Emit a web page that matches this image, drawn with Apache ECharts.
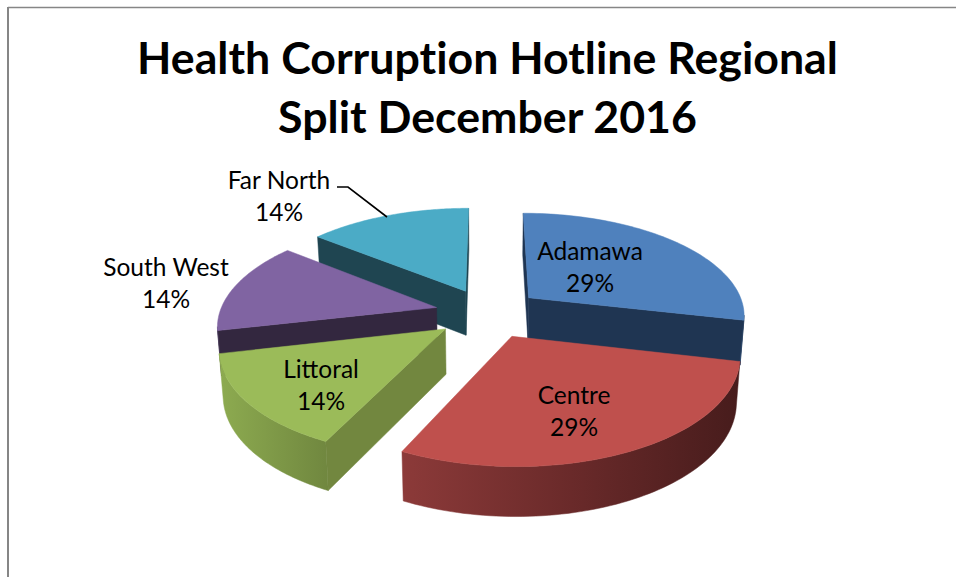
<!DOCTYPE html>
<html>
<head>
<meta charset="utf-8">
<style>html,body{margin:0;padding:0;background:#fff}#c{width:956px;height:577px}
#c text{font-variant-ligatures:none;font-feature-settings:"liga" 0,"clig" 0}</style>
<script src="https://cdn.jsdelivr.net/npm/echarts@6/dist/echarts.min.js"></script>
</head>
<body>
<div id="c"></div>
<script>
var titleLines = ['Health Corruption Hotline Regional', 'Split December 2016'];
var categories = ['Adamawa', 'Centre', 'Littoral', 'South West', 'Far North'];
var values = [2, 2, 1, 1, 1];

var topColors = ['#4f81bd', '#bf504d', '#9bbb59', '#8064a2', '#4babc6'];
var radialColors = ['#1f3552', '#4b1e1e', '#72873f', '#33273f', '#1f4551'];
var wallStops = [
  ['#2c4a72', '#1f3552'],
  ['#8c3a39', '#6a2a2a', '#471c1c'],
  ['#8dab50', '#70873f'],
  ['#4a3a5e', '#33273f'],
  ['#2d6a7a', '#1f4551']
];
var labelCentres = [[590, 266], [574, 410], [321, 384], [166, 282], [279, 195]];

// Perspective view of the pie plane
var view = { x0: 488, y0: 313, a: 217, b: 102, k: 0.155, explode: 0.245,
             drop: 44.75, sx: 0.985, sy: 1.034 };

var total = values.reduce(function (s, v) { return s + v; }, 0);
var starts = [], acc = 0;
values.forEach(function (v) { starts.push(acc / total * 2 * Math.PI); acc += v; });

function project(X, Y) {
  var w = 1 + view.k * Y;
  return [view.x0 + view.a * X / w, view.y0 - view.b * Y / w];
}
function lower(p) {
  return [view.x0 + (p[0] - view.x0) * view.sx,
          view.y0 + view.drop + (p[1] - view.y0) * view.sy];
}
function rimPoint(i, t) {
  var mid = starts[i] + values[i] / total * Math.PI;
  return project(view.explode * Math.sin(mid) + Math.sin(t), view.explode * Math.cos(mid) + Math.cos(t));
}
function apexPoint(i) {
  var mid = starts[i] + values[i] / total * Math.PI;
  return project(view.explode * Math.sin(mid), view.explode * Math.cos(mid));
}
function cross(o, p, q) {
  return (p[0] - o[0]) * (q[1] - o[1]) - (p[1] - o[1]) * (q[0] - o[0]);
}
function poly(points, fill, z2) {
  return { type: 'polygon', shape: { points: points }, z2: z2,
           style: { fill: fill, stroke: fill, lineWidth: 0.5 }, silent: true };
}
function gradient(stops) {
  return { type: 'linear', x: 0, y: 0, x2: 1, y2: 0,
    colorStops: stops.map(function (c, j) { return { offset: j / (stops.length - 1), color: c }; }) };
}

// far slices are painted first
var paintOrder = values.map(function (v, i) { return i; }).sort(function (p, q) {
  return Math.cos(starts[q] + values[q] / total * Math.PI) - Math.cos(starts[p] + values[p] / total * Math.PI);
});

function renderSlice(params, api) {
  var i = params.dataIndex;
  var base = (paintOrder.indexOf(i) + 1) * 10;
  var sweep = api.value(0) / total * 2 * Math.PI;
  var s = starts[i];
  var apex = apexPoint(i), rim = [];
  var n = 72;
  for (var j = 0; j <= n; j++) rim.push(rimPoint(i, s + sweep * j / n));
  var midRim = rim[n >> 1];
  var kids = [];

  [rim[0], rim[n]].forEach(function (r) {
    var a = cross(apex, r, [apex[0], apex[1] + 1]);
    var b = cross(apex, r, midRim);
    if (a * b < 0) {
      kids.push(poly([apex, r, lower(r), lower(apex)], radialColors[i], base));
    }
  });

  var upper = [], under = [];
  for (j = 0; j < n; j++) {
    if (rim[j + 1][0] < rim[j][0]) {
      if (!upper.length) { upper.push(rim[j]); under.push(lower(rim[j])); }
      upper.push(rim[j + 1]); under.push(lower(rim[j + 1]));
    }
  }
  if (upper.length) {
    kids.push(poly(upper.concat(under.reverse()), gradient(wallStops[i]), base + 1));
  }

  kids.push(poly([apex].concat(rim), topColors[i], base + 2));
  return { type: 'group', children: kids };
}

function renderLabel(params, api) {
  var i = params.dataIndex;
  var pct = Math.round(api.value(0) / total * 100) + '%';
  return {
    type: 'text', z2: 100, silent: true,
    style: {
      x: labelCentres[i][0], y: labelCentres[i][1],
      text: categories[i] + '\n' + pct,
      fill: '#000', font: '24.5px Lato', lineHeight: 32,
      align: 'center', verticalAlign: 'middle'
    }
  };
}

var chart = echarts.init(document.getElementById('c'), null, { renderer: 'svg' });
chart.setOption({
  animation: false,
  backgroundColor: '#ffffff',
  title: {
    text: titleLines.join('\n'),
    left: 482.5, top: 22, textAlign: 'center',
    textStyle: { fontFamily: 'Lato', fontWeight: 'bold', fontSize: 44.7, lineHeight: 59, color: '#000' }
  },
  graphic: [
    { type: 'line', silent: true, shape: { x1: 8, y1: 7.5, x2: 956, y2: 7.5 }, style: { stroke: '#868686', lineWidth: 1.5 } },
    { type: 'line', silent: true, shape: { x1: 8, y1: 7, x2: 8, y2: 577 }, style: { stroke: '#868686', lineWidth: 2 } },
    { type: 'polyline', silent: true, z: 5, shape: { points: [[337, 187], [348, 187], [387, 217]] }, style: { stroke: '#000', lineWidth: 1.6, fill: null } }
  ],
  series: [
    { type: 'custom', coordinateSystem: 'none', renderItem: renderSlice, data: values.map(function (v) { return [v]; }), z: 2 },
    { type: 'custom', coordinateSystem: 'none', renderItem: renderLabel, data: values.map(function (v) { return [v]; }), z: 3 }
  ]
});
</script>
</body>
</html>
